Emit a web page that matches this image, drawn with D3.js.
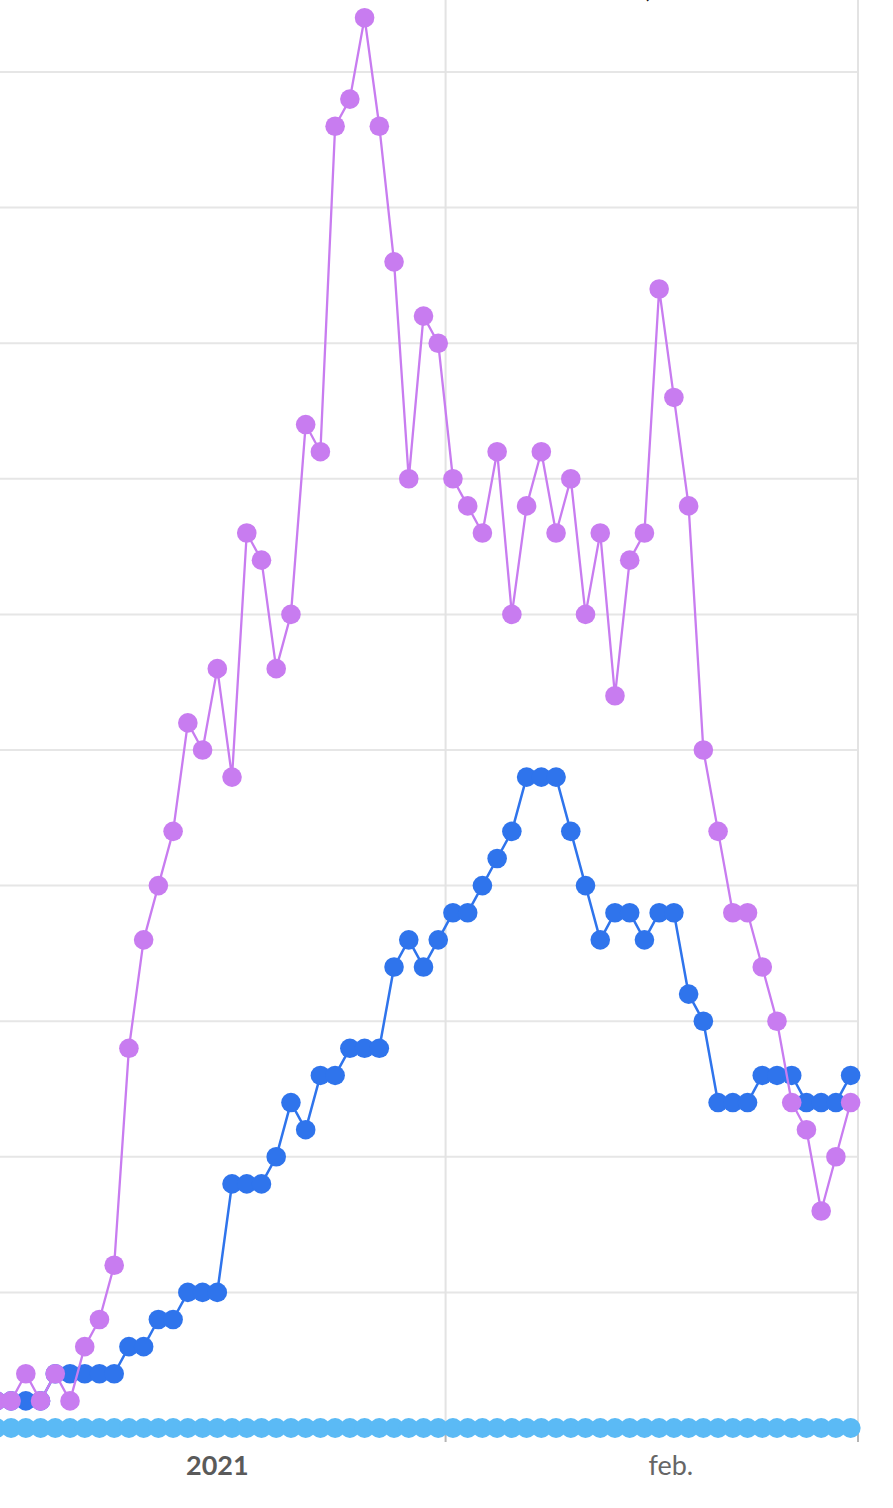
<!DOCTYPE html>
<html>
<head>
<meta charset="utf-8">
<script src="https://cdn.jsdelivr.net/npm/d3@7"></script>
<style>
  html, body { margin: 0; padding: 0; background: #ffffff; }
  svg { display: block; }
</style>
</head>
<body>
<svg id="chart" width="893" height="1508"></svg>
<script>
// ---- data ----
const startDate = "2021-01-01";
const dayCount = 59; // Jan 1 .. Feb 28
const purpleValues = [1,1,2,1,2,1,3,4,6,14,18,20,22,26,25,28,24,33,32,28,30,37,36,48,49,52,48,43,35,41,40,
  35,34,33,36,30,34,36,33,35,30,33,27,32,33,42,38,34,25,22,19,19,17,15,12,11,8,10,12];
const blueValues = [1,1,1,1,2,2,2,2,2,3,3,4,4,5,5,5,9,9,9,10,12,11,13,13,14,14,14,17,18,17,18,
  19,19,20,21,22,24,24,24,22,20,18,19,19,18,19,19,16,15,12,12,12,13,13,13,12,12,12,13];
const lightBlueValues = new Array(59).fill(0);
const yTicks = [0,5,10,15,20,25,30,35,40,45,50];
const monthBoundaries = ["2021-02-01", "2021-03-01"];
const xLabels = [
  { date: "2021-01-16T12:00", text: "2021", bold: true },
  { date: "2021-02-16T07:00", text: "feb.", bold: false }
];

// ---- setup ----
const svg = d3.select("#chart");
const parse = d3.isoParse;
const day0 = parse(startDate);
const dates = d3.range(dayCount).map(i => d3.timeHour.offset(d3.timeDay.offset(day0, i), 12));

const x = d3.scaleTime()
  .domain([parse("2021-01-01"), parse("2021-03-01")])
  .range([-11, 858]);
const y = d3.scaleLinear().domain([0, 50]).range([1428, 72]);

const plotRight = 858;
const grid = svg.append("g");

// horizontal gridlines
grid.selectAll("line.h").data(yTicks.filter(d => d > 0)).join("line")
  .attr("x1", 0).attr("x2", plotRight)
  .attr("y1", d => y(d)).attr("y2", d => y(d))
  .attr("stroke", "#e6e6e6").attr("stroke-width", 2);

// vertical month gridlines
grid.selectAll("line.v").data(monthBoundaries.map(parse)).join("line")
  .attr("x1", d => x(d)).attr("x2", d => x(d))
  .attr("y1", 0).attr("y2", 1428)
  .attr("stroke", "#e3e3e3").attr("stroke-width", 2);
grid.selectAll("line.t").data(monthBoundaries.map(parse)).join("line")
  .attr("x1", d => x(d)).attr("x2", d => x(d))
  .attr("y1", 1428).attr("y2", 1442)
  .attr("stroke", "#b5b5b5").attr("stroke-width", 2);

// series
const series = [
  { values: lightBlueValues, color: "#5bbaf5", r: 10, w: 2 },
  { values: blueValues, color: "#2f74ec", r: 9.8, w: 2.5 },
  { values: purpleValues, color: "#c87cf0", r: 9.8, w: 2.3 }
];
const line = d3.line().x(d => x(d.date)).y(d => y(d.v));

series.forEach(s => {
  const pts = s.values.map((v, i) => ({ date: dates[i], v }));
  const g = svg.append("g");
  g.append("path").datum(pts)
    .attr("d", line).attr("fill", "none")
    .attr("stroke", s.color).attr("stroke-width", s.w)
    .attr("stroke-linejoin", "round");
  g.selectAll("circle").data(pts).join("circle")
    .attr("cx", d => x(d.date)).attr("cy", d => y(d.v))
    .attr("r", s.r).attr("fill", s.color);
});

// x labels
svg.selectAll("text.xl").data(xLabels).join("text")
  .attr("x", d => x(parse(d.date)))
  .attr("y", 1475)
  .attr("text-anchor", "middle")
  .attr("font-family", "Lato, 'Open Sans', sans-serif")
  .attr("font-size", 27)
  .attr("font-weight", d => d.bold ? 700 : 400)
  .attr("fill", d => d.bold ? "#5a5a5a" : "#666666")
  .text(d => d.text);

// partially cut-off text at the top edge
svg.append("text")
  .attr("x", 643).attr("y", -2)
  .attr("font-family", "Lato, sans-serif")
  .attr("font-size", 24)
  .attr("fill", "#111")
  .text("(");
</script>
</body>
</html>
